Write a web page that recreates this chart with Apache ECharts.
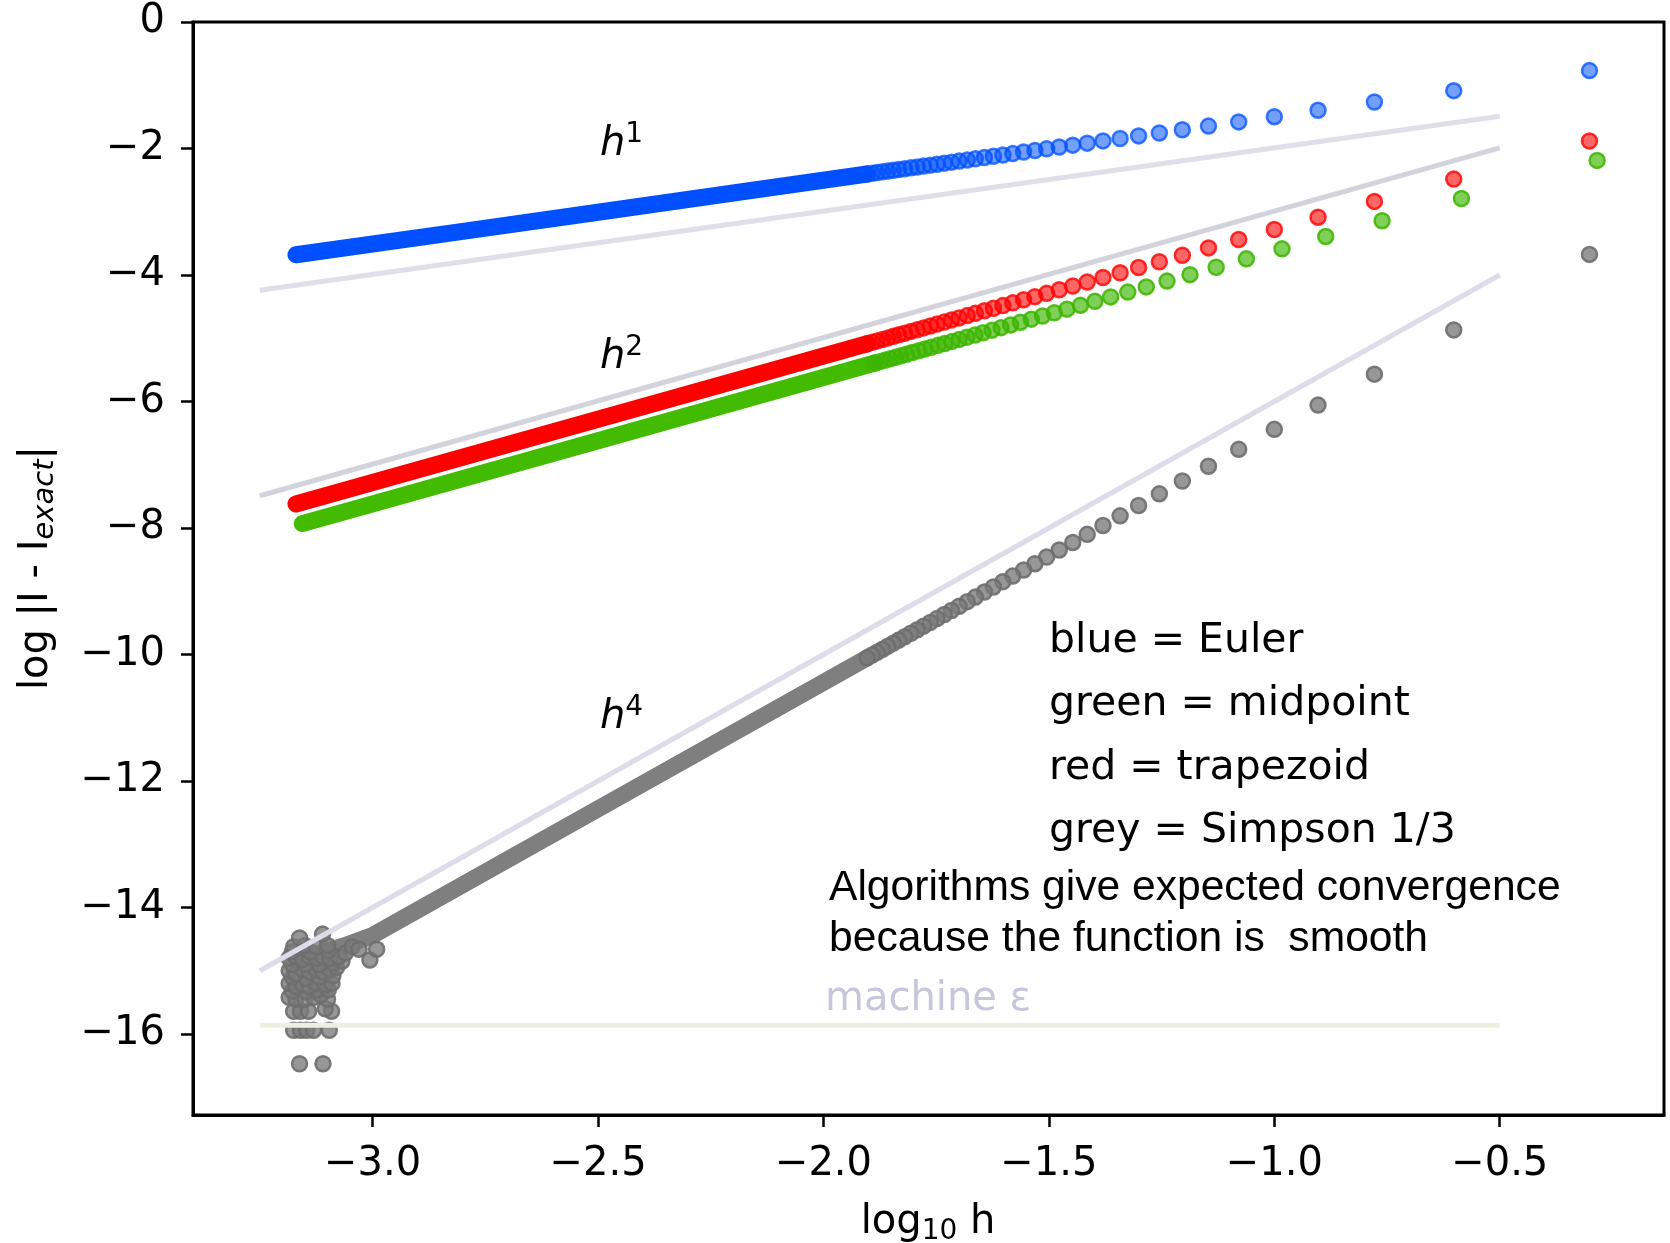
<!DOCTYPE html>
<html>
<head>
<meta charset="utf-8">
<script src="https://cdn.jsdelivr.net/npm/echarts@6.0.0/dist/echarts.min.js"></script>
<style>
  html, body { margin: 0; padding: 0; background: #fff; }
  #main { width: 1670px; height: 1243px; }
</style>
</head>
<body>
<div id="main"></div>
<script>
// log10 h for N = 2, 4, ..., 80 panels
const logH = [-0.301, -0.602, -0.778, -0.903, -1.0, -1.079, -1.146, -1.204, -1.255, -1.301,
  -1.342, -1.38, -1.415, -1.447, -1.477, -1.505, -1.531, -1.556, -1.58, -1.602,
  -1.623, -1.643, -1.663, -1.681, -1.699, -1.716, -1.732, -1.748, -1.763, -1.778,
  -1.792, -1.806, -1.82, -1.833, -1.845, -1.857, -1.869, -1.881, -1.892, -1.903]
// midpoint points sit a little to the right
const logHMid = [-0.284, -0.585, -0.761, -0.886, -0.983, -1.062, -1.129, -1.187, -1.238, -1.284,
  -1.325, -1.363, -1.398, -1.43, -1.46, -1.488, -1.514, -1.539, -1.563, -1.585,
  -1.606, -1.626, -1.646, -1.664, -1.682, -1.699, -1.715, -1.731, -1.746, -1.761,
  -1.775, -1.789, -1.803, -1.816, -1.828, -1.84, -1.852, -1.864, -1.875, -1.886]

const euler = [-0.768, -1.085, -1.265, -1.396, -1.497, -1.579, -1.646, -1.704, -1.755, -1.801,
  -1.842, -1.88, -1.915, -1.947, -1.977, -2.005, -2.031, -2.056, -2.08, -2.102,
  -2.123, -2.143, -2.163, -2.181, -2.199, -2.216, -2.232, -2.248, -2.263, -2.278,
  -2.292, -2.306, -2.32, -2.333, -2.345, -2.357, -2.369, -2.381, -2.392, -2.403]
const trapezoid = [-1.882, -2.484, -2.836, -3.086, -3.28, -3.438, -3.572, -3.688, -3.79, -3.882,
  -3.964, -4.04, -4.11, -4.174, -4.234, -4.29, -4.342, -4.392, -4.44, -4.484,
  -4.526, -4.566, -4.606, -4.642, -4.678, -4.712, -4.744, -4.776, -4.806, -4.836,
  -4.864, -4.892, -4.92, -4.946, -4.97, -4.994, -5.018, -5.042, -5.064, -5.086]
const midpoint = [-2.188, -2.79, -3.142, -3.392, -3.586, -3.744, -3.878, -3.994, -4.096, -4.188,
  -4.27, -4.346, -4.416, -4.48, -4.54, -4.596, -4.648, -4.698, -4.746, -4.79,
  -4.832, -4.872, -4.912, -4.948, -4.984, -5.018, -5.05, -5.082, -5.112, -5.142,
  -5.17, -5.198, -5.226, -5.252, -5.276, -5.3, -5.324, -5.348, -5.37, -5.392]
const simpson = [-3.674, -4.868, -5.567, -6.057, -6.44, -6.756, -7.024, -7.256, -7.46, -7.644,
  -7.808, -7.96, -8.1, -8.228, -8.348, -8.46, -8.564, -8.664, -8.76, -8.848,
  -8.932, -9.012, -9.092, -9.164, -9.236, -9.304, -9.368, -9.432, -9.492, -9.552,
  -9.608, -9.664, -9.72, -9.772, -9.82, -9.868, -9.916, -9.964, -10.008, -10.052]

// dense part (small h) where the dots merge into a band
const eulerDense = [[-1.903, -2.403], [-2.2, -2.703], [-2.5, -3.008], [-2.8, -3.31], [-3.17, -3.68]]
const trapDense = [[-1.903, -5.086], [-2.5, -6.28], [-3.17, -7.62]]
const midDense = [[-1.886, -5.392], [-2.5, -6.62], [-3.156, -7.93]]
const simpDense = [[-1.903, -10.052], [-2.5, -12.44], [-3.0, -14.44], [-3.06, -14.6], [-3.15, -14.8]]
// round-off scatter of Simpson at the smallest h
const simpNoise = [[-3.162, -16.47], [-3.11, -16.47],
  [-3.175, -15.94], [-3.16, -15.94], [-3.146, -15.94], [-3.131, -15.94], [-3.096, -15.94],
  [-3.175, -15.64], [-3.16, -15.64], [-3.142, -15.64], [-3.091, -15.64], [-3.105, -15.6],
  [-3.185, -15.42], [-3.17, -15.45], [-3.15, -15.45], [-3.13, -15.42], [-3.1, -15.45], [-3.115, -15.38],
  [-3.178, -15.32], [-3.148, -15.33], [-3.122, -15.3], [-3.098, -15.3],
  [-3.185, -15.2], [-3.17, -15.25], [-3.155, -15.22], [-3.14, -15.25], [-3.125, -15.2], [-3.105, -15.22], [-3.09, -15.2],
  [-3.178, -15.1], [-3.148, -15.12], [-3.118, -15.1], [-3.088, -15.08],
  [-3.185, -15.0], [-3.17, -15.05], [-3.155, -14.98], [-3.14, -15.02], [-3.125, -14.98], [-3.11, -15.02], [-3.095, -14.98], [-3.08, -14.95],
  [-3.178, -14.9], [-3.148, -14.9], [-3.118, -14.9], [-3.088, -14.88], [-3.068, -14.85],
  [-3.185, -14.8], [-3.17, -14.78], [-3.155, -14.82], [-3.14, -14.78], [-3.125, -14.8], [-3.11, -14.78], [-3.095, -14.8], [-3.075, -14.78], [-3.06, -14.72],
  [-3.178, -14.7], [-3.138, -14.7], [-3.098, -14.68],
  [-3.175, -14.62], [-3.15, -14.6], [-3.125, -14.62], [-3.1, -14.6],
  [-3.162, -14.48], [-3.111, -14.42], [-3.045, -14.62], [-3.03, -14.66], [-3.006, -14.83], [-2.991, -14.66]]

// reference slopes
const guideX = [-3.25, -0.5]
const slope1 = [-4.24, -1.49]
const slope2 = [-7.49, -1.99]
const slope4 = [-15.0, -4.0]
const machineEps = [-15.86, -15.86]

const xTicks = [-3.0, -2.5, -2.0, -1.5, -1.0, -0.5]
const yTicks = [0, -2, -4, -6, -8, -10, -12, -14, -16]

const font = 'DejaVu Sans'
const pair = (xs, ys) => xs.map((x, i) => [x, ys[i]])
const minus = s => s.replace('-', '\u2212')

const dots = (data, fill, edge) => ({
  type: 'scatter',
  data: data,
  symbolSize: 15,
  z: 3,
  itemStyle: {color: fill, borderColor: edge, borderWidth: 2.5, opacity: 1}
})
const band = (data, color) => ({
  type: 'line',
  data: data,
  symbol: 'none',
  z: 2,
  lineStyle: {width: 17, color: color, cap: 'round', join: 'round'}
})
const guide = (ys, color) => ({
  type: 'line',
  data: pair(guideX, ys),
  symbol: 'none',
  z: 5,
  lineStyle: {width: 5, color: color}
})

const chart = echarts.init(document.getElementById('main'))
chart.setOption({
  animation: false,
  backgroundColor: '#fff',
  grid: {
    left: 193, right: 6, top: 22, bottom: 128,
    show: true, borderColor: '#000', borderWidth: 3,
    outerBoundsMode: 'none'
  },
  xAxis: {
    type: 'value',
    min: -3.3983,
    max: -0.1357,
    axisLine: {show: true, onZero: false, lineStyle: {color: '#000', width: 3}},
    axisTick: {show: true, length: 12, customValues: xTicks, lineStyle: {color: '#000', width: 2.5}},
    axisLabel: {
      customValues: xTicks, margin: 30, fontSize: 40, fontFamily: font, color: '#000',
      formatter: v => minus(v.toFixed(1))
    },
    splitLine: {show: false}
  },
  yAxis: {
    type: 'value',
    min: -17.28,
    max: 0,
    axisLine: {show: true, onZero: false, lineStyle: {color: '#000', width: 3}},
    axisTick: {show: true, length: 12, customValues: yTicks, lineStyle: {color: '#000', width: 2.5}},
    axisLabel: {
      customValues: yTicks, margin: 28, fontSize: 40, fontFamily: font, color: '#000',
      formatter: v => minus(String(v))
    },
    splitLine: {show: false}
  },
  graphic: [
    {
      type: 'text', x: 928, y: 1203,
      style: {
        text: '{m|log}{s|10}{m| h}', align: 'center', verticalAlign: 'top',
        rich: {
          m: {fontSize: 40, fontFamily: font, fill: '#000', lineHeight: 40, verticalAlign: 'top'},
          s: {fontSize: 28, fontFamily: font, fill: '#000', lineHeight: 43, verticalAlign: 'bottom'}
        }
      }
    },
    {
      type: 'text', x: 38, y: 568, rotation: Math.PI / 2,
      style: {
        text: '{m|log |I - I}{s|exact}{m||}', align: 'center', verticalAlign: 'middle',
        rich: {
          m: {fontSize: 40, fontFamily: font, fill: '#000', lineHeight: 40, verticalAlign: 'top'},
          s: {fontSize: 29, fontFamily: font, fontStyle: 'italic', fill: '#000', lineHeight: 43, verticalAlign: 'bottom'}
        }
      }
    },
    ...[['1', 121], ['2', 334], ['4', 694]].map(([p, top]) => ({
      type: 'text', x: 600, y: top, z: 10,
      style: {
        text: '{h|h}{p|' + p + '}', align: 'left', verticalAlign: 'top',
        rich: {
          h: {fontSize: 40, fontFamily: font, fontStyle: 'italic', fill: '#000', lineHeight: 44, verticalAlign: 'bottom'},
          p: {fontSize: 28, fontFamily: font, fill: '#000', lineHeight: 28, verticalAlign: 'top'}
        }
      }
    })),
    ...[['blue = Euler', 641], ['green = midpoint', 704.5], ['red = trapezoid', 768], ['grey = Simpson 1/3', 831.5]]
      .map(([t, y]) => ({
        type: 'text', x: 1049, y: y, z: 10,
        style: {text: t, font: '41px "DejaVu Sans"', fill: '#000', align: 'left', verticalAlign: 'middle'}
      })),
    ...[['Algorithms give expected convergence', 888], ['because the function is  smooth', 939]]
      .map(([t, y]) => ({
        type: 'text', x: 829, y: y, z: 10,
        style: {text: t, font: '42.6px "Liberation Sans"', fill: '#000', align: 'left', verticalAlign: 'middle'}
      })),
    {
      type: 'text', x: 825, y: 1000, z: 10,
      style: {text: 'machine \u03b5', font: '40px "DejaVu Sans"', fill: '#c6c6dc', align: 'left', verticalAlign: 'middle'}
    }
  ],
  series: [
    band(eulerDense, '#0050ff'),
    band(trapDense, '#ff0000'),
    band(midDense, '#42bb00'),
    band(simpDense, '#7f7f7f'),
    dots(pair(logH, euler), 'rgba(0,80,255,0.55)', 'rgba(0,80,255,0.75)'),
    dots(pair(logH, trapezoid), 'rgba(255,0,0,0.6)', 'rgba(255,0,0,0.8)'),
    dots(pair(logHMid, midpoint), 'rgba(60,181,0,0.65)', 'rgba(60,181,0,0.85)'),
    dots(pair(logH, simpson), 'rgba(122,122,122,0.78)', 'rgba(110,110,110,0.9)'),
    dots(simpNoise, 'rgba(122,122,122,0.78)', 'rgba(110,110,110,0.9)'),
    guide(slope1, '#dfdfea'),
    guide(slope2, '#d3d3de'),
    guide(slope4, '#dcdcea'),
    guide(machineEps, '#efefe0')
  ]
})
</script>
</body>
</html>
